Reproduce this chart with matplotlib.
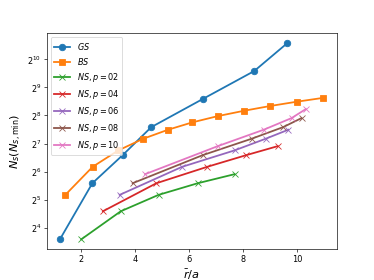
import matplotlib
matplotlib.use("Agg")
import matplotlib.pyplot as plt

gs_x = [1.22, 2.42, 3.54, 4.60, 6.50, 8.41, 9.64]
gs_y = [12, 48, 96, 192, 384, 768, 1536]

bs_x = [1.42, 2.43, 3.38, 4.30, 5.22, 6.12, 7.06, 8.04, 9.01, 9.99, 10.97]
bs_y = [36, 72, 108, 144, 180, 216, 252, 288, 324, 360, 396]

ns02_x = [2.01, 3.47, 4.87, 6.32, 7.68]
ns02_y = [12, 24, 36, 48, 60]

ns04_x = [2.81, 4.79, 6.67, 8.11, 9.28]
ns04_y = [24, 48, 72, 96, 120]

ns06_x = [3.43, 5.74, 7.68, 8.83, 9.67]
ns06_y = [36, 72, 108, 144, 180]

ns08_x = [3.91, 6.50, 8.31, 9.48, 10.16]
ns08_y = [48, 96, 144, 192, 240]

ns10_x = [4.37, 7.06, 8.76, 9.79, 10.32]
ns10_y = [60, 120, 180, 240, 300]

fig, ax = plt.subplots(figsize=(6.4, 4.8), dpi=374 / 6.4)
lw = 2.2
ax.plot(gs_x, gs_y, marker='o', ms=8, lw=lw, label='$GS$')
ax.plot(bs_x, bs_y, marker='s', ms=8, lw=lw, label='$BS$')
ax.plot(ns02_x, ns02_y, marker='x', ms=7, lw=lw, label='$NS, p = 02$')
ax.plot(ns04_x, ns04_y, marker='x', ms=7, lw=lw, label='$NS, p = 04$')
ax.plot(ns06_x, ns06_y, marker='x', ms=7, lw=lw, label='$NS, p = 06$')
ax.plot(ns08_x, ns08_y, marker='x', ms=7, lw=lw, label='$NS, p = 08$')
ax.plot(ns10_x, ns10_y, marker='x', ms=7, lw=lw, label='$NS, p = 10$')
ax.set_yscale('log', base=2)
ax.set_xlabel(r'$\bar{r}/a$', fontsize=14)
ax.set_ylabel(r'$N_s(N_{s,\min})$', fontsize=14)
ax.legend(loc='upper left')
fig.savefig('out.png')
